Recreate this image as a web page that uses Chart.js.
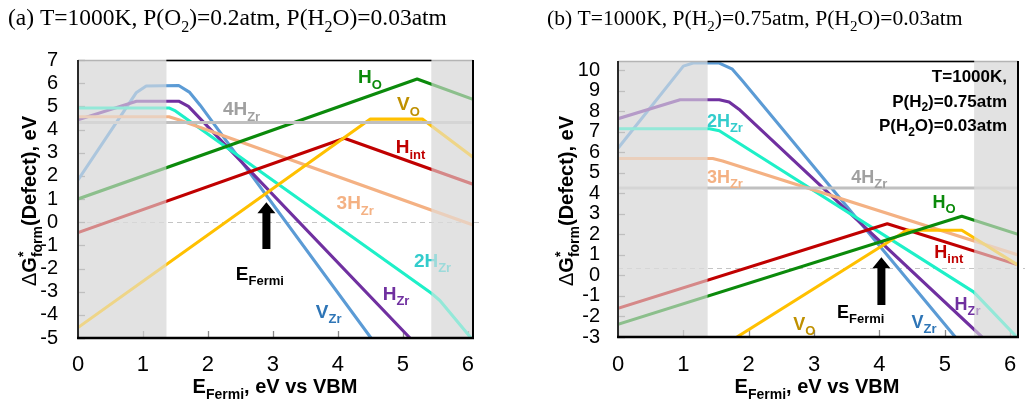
<!DOCTYPE html>
<html>
<head>
<meta charset="utf-8">
<script src="https://cdn.jsdelivr.net/npm/chart.js@4.4.0/dist/chart.umd.min.js"></script>
<style>
body { margin: 0; background: #fff; }
#wrap { position: relative; width: 1035px; height: 405px; background: #fff; }
canvas { position: absolute; top: 0; }
</style>
</head>
<body>
<div id="wrap">
  <canvas id="chartA" width="517" height="405" style="left:0"></canvas>
  <canvas id="chartB" width="518" height="405" style="left:517px"></canvas>
</div>
<script>
// ---- data, panel (a): T=1000K, P(O2)=0.2atm, P(H2O)=0.03atm ----
// each point is [E_Fermi (eV), formation energy (eV)]
const a_HO   = [[0, 1.0], [5.22, 6.18], [6.08, 5.3]];
const a_VO   = [[0, -4.55], [4.5, 4.45], [5.3, 4.45], [6.08, 2.8]];
const a_Hint = [[0, -0.45], [4.1, 3.62], [6.08, 1.64]];
const a_4HZr = [[0, 4.3], [6.08, 4.3]];
const a_3HZr = [[0, 4.55], [1.4, 4.55], [1.55, 4.42], [6.08, -0.12]];
const a_2HZr = [[0, 4.93], [1.4, 4.93], [1.5, 4.8], [5.44, -3.07], [5.57, -3.38], [6.05, -5]];
const a_HZr  = [[0, 4.42], [0.9, 5.22], [1.55, 5.22], [1.7, 5.0], [5.11, -5]];
const a_VZr  = [[0, 1.82], [0.9, 5.6], [1.05, 5.88], [1.55, 5.9], [1.72, 5.6], [1.88, 5.05], [4.51, -5]];

// ---- data, panel (b): T=1000K, P(H2)=0.75atm, P(H2O)=0.03atm ----
const b_HO   = [[0, -2.38], [5.26, 2.88], [6.12, 2.0]];
const b_VO   = [[1.82, -3], [4.42, 2.2], [5.26, 2.2], [6.12, 0.5]];
const b_Hint = [[0, -1.6], [4.12, 2.52], [6.12, 0.52]];
const b_4HZr = [[0, 4.26], [6.12, 4.26]];
const b_3HZr = [[0, 5.7], [1.45, 5.7], [1.6, 5.58], [6.12, 1.0]];
const b_2HZr = [[0, 7.15], [1.4, 7.15], [1.55, 7.05], [5.44, -0.8], [5.62, -1.4], [6.1, -3]];
const b_HZr  = [[0, 7.64], [0.95, 8.56], [1.55, 8.56], [1.7, 8.45], [1.85, 8.1], [5.57, -3]];
const b_VZr  = [[0, 6.2], [1.0, 10.2], [1.15, 10.35], [1.55, 10.35], [1.75, 10.05], [1.9, 9.5], [5.16, -3]];

// axis ranges and tick steps
const a_xRange = [0, 6.08], a_yRange = [-5, 7];
const b_xRange = [0, 6.12], b_yRange = [-3, 10.45];
const tickStep = 1;

// band gap edges (shaded = outside), Fermi level marks, reference dashed lines
const a_gap = [1.36, 5.44], b_gap = [1.37, 5.45];
const a_fermi = 2.9, b_fermi = 4.03;
const a_zeroLine = 0, b_zeroLine = 0.37;

const lineColor = {
  HO: '#0b8a0b', VO: '#ffc000', Hint: '#c00000', '4HZr': '#c0c0c0',
  '3HZr': '#f4b183', '2HZr': '#1ef0c8', HZr: '#7030a0', VZr: '#5b9bd5'
};
const textColor = {
  HO: '#0b8a0b', VO: '#bf9000', Hint: '#c00000', '4HZr': '#a0a0a0',
  '3HZr': '#f4b183', '2HZr': '#33cccc', HZr: '#7030a0', VZr: '#2e75b6', EF: '#000'
};
const labelParts = {
  HO: [['H'], ['O', 'sub']], VO: [['V'], ['O', 'sub']], Hint: [['H'], ['int', 'sub']],
  '4HZr': [['4H'], ['Zr', 'sub']], '3HZr': [['3H'], ['Zr', 'sub']], '2HZr': [['2H'], ['Zr', 'sub']],
  HZr: [['H'], ['Zr', 'sub']], VZr: [['V'], ['Zr', 'sub']], EF: [['E'], ['Fermi', 'sub']]
};

// label anchors (left, baseline) in data units
const a_labels = [
  ['HO', 4.31, 5.99], ['VO', 4.91, 4.83], ['Hint', 4.89, 2.97], ['3HZr', 3.98, 0.56],
  ['4HZr', 2.23, 4.61], ['2HZr', 5.17, -1.94], ['HZr', 4.69, -3.36], ['VZr', 3.66, -4.14], ['EF', 2.43, -2.5]
];
const b_labels = [
  ['2HZr', 1.36, 7.25], ['3HZr', 1.36, 4.5], ['4HZr', 3.57, 4.5], ['HO', 4.81, 3.27],
  ['Hint', 4.84, 0.84], ['HZr', 5.15, -1.69], ['VZr', 4.49, -2.56], ['VO', 2.68, -2.66], ['EF', 3.35, -2.08]
];

const SANS = '"Liberation Sans", Arial, sans-serif';
const SERIF = '"Liberation Serif", "Times New Roman", serif';

function drawRich(ctx, parts, x, y, o) {
  const segs = parts.map(p => {
    const kind = p[1] || 'n';
    const sz = kind === 'n' ? o.size : Math.round(o.size * 0.7);
    const font = (p[2] || o.weight) + ' ' + sz + 'px ' + o.family;
    ctx.font = font;
    const dy = kind === 'sub' ? o.size * 0.28 : kind === 'sup' ? -o.size * 0.4 : 0;
    return { t: p[0], font, w: ctx.measureText(p[0]).width, dy, stack: p[3] };
  });
  let total = 0;
  segs.forEach(s => { if (!s.stack) total += s.w; });
  let cx = o.align === 'center' ? x - total / 2 : o.align === 'right' ? x - total : x;
  ctx.fillStyle = o.color || '#000';
  ctx.textAlign = 'left';
  ctx.textBaseline = 'alphabetic';
  segs.forEach(s => {
    ctx.font = s.font;
    ctx.fillText(s.t, cx, y + s.dy);
    if (!s.stack) cx += s.w;
  });
}

function drawArrow(ctx, cx, tipY, botY) {
  ctx.fillStyle = '#000';
  ctx.beginPath();
  ctx.moveTo(cx, tipY);
  ctx.lineTo(cx + 9, tipY + 11);
  ctx.lineTo(cx + 4, tipY + 11);
  ctx.lineTo(cx + 4, botY);
  ctx.lineTo(cx - 4, botY);
  ctx.lineTo(cx - 4, tipY + 11);
  ctx.lineTo(cx - 9, tipY + 11);
  ctx.closePath();
  ctx.fill();
}

function makeDecor(cfg) {
  function shadeRects(chart) {
    const { chartArea: ca, scales: { x } } = chart;
    const x1 = x.getPixelForValue(cfg.gap[0]), x2 = x.getPixelForValue(cfg.gap[1]);
    return [[ca.left, ca.top, x1 - ca.left, ca.bottom - ca.top], [x2, ca.top, ca.right - x2, ca.bottom - ca.top]];
  }
  return {
    id: 'decor' + cfg.tag,
    beforeDatasetsDraw(chart) {
      const { ctx, chartArea: ca, scales: { x, y } } = chart;
      ctx.save();
      ctx.fillStyle = '#e2e2e2';
      shadeRects(chart).forEach(r => ctx.fillRect(...r));
      // dashed reference line
      const yd = Math.round(y.getPixelForValue(cfg.zeroLine)) + 0.5;
      ctx.setLineDash([5, 4]);
      ctx.strokeStyle = '#c4c4c4';
      ctx.lineWidth = 1;
      ctx.beginPath(); ctx.moveTo(ca.left, yd); ctx.lineTo(ca.right + 7, yd); ctx.stroke();
      ctx.setLineDash([]);
      // inward tick marks
      ctx.strokeStyle = '#8a8a8a';
      ctx.lineWidth = 1.3;
      y.ticks.forEach(t => {
        const py = Math.round(y.getPixelForValue(t.value)) + 0.5;
        ctx.beginPath(); ctx.moveTo(ca.left, py); ctx.lineTo(ca.left + 7, py); ctx.stroke();
      });
      x.ticks.forEach(t => {
        const px = Math.round(x.getPixelForValue(t.value)) + 0.5;
        ctx.beginPath(); ctx.moveTo(px, ca.bottom); ctx.lineTo(px, ca.bottom - 7); ctx.stroke();
      });
      ctx.restore();
    },
    afterDatasetsDraw(chart) {
      const { ctx, chartArea: ca, scales: { x, y } } = chart;
      ctx.save();
      // curve labels
      cfg.labels.forEach(l => {
        drawRich(ctx, labelParts[l[0]], x.getPixelForValue(l[1]), y.getPixelForValue(l[2]),
          { size: cfg.labelSize, family: SANS, weight: 'bold', color: textColor[l[0]] });
      });
      // Fermi level arrow
      drawArrow(ctx, x.getPixelForValue(cfg.fermi), y.getPixelForValue(cfg.arrow[0]), y.getPixelForValue(cfg.arrow[1]));
      // fade the curves outside the band gap
      ctx.fillStyle = 'rgba(226,226,226,0.6)';
      shadeRects(chart).forEach(r => ctx.fillRect(...r));
      // frame
      const x1 = x.getPixelForValue(cfg.gap[0]), x2 = x.getPixelForValue(cfg.gap[1]);
      ctx.lineWidth = 1.5;
      ctx.strokeStyle = '#b4b4b4';
      ctx.beginPath(); ctx.moveTo(ca.left, ca.top + 0.5); ctx.lineTo(ca.right, ca.top + 0.5); ctx.stroke();
      ctx.strokeStyle = '#000';
      ctx.beginPath(); ctx.moveTo(x1, ca.top + 0.5); ctx.lineTo(x2, ca.top + 0.5); ctx.stroke();
      ctx.lineWidth = 2;
      ctx.strokeStyle = '#2a2a2a';
      ctx.beginPath(); ctx.moveTo(ca.left, ca.top); ctx.lineTo(ca.left, ca.bottom); ctx.stroke();
      ctx.strokeStyle = '#000';
      ctx.beginPath(); ctx.moveTo(ca.right, ca.top); ctx.lineTo(ca.right, ca.bottom); ctx.stroke();
      ctx.lineWidth = 2.6;
      ctx.beginPath(); ctx.moveTo(ca.left - 1, ca.bottom); ctx.lineTo(ca.right + 1, ca.bottom); ctx.stroke();
      // text box (panel b)
      if (cfg.note) {
        cfg.note.forEach((line, i) => {
          drawRich(ctx, line, ca.right - 11, ca.top + 21 + i * 24.5,
            { size: 17, family: SANS, weight: 'bold', color: '#000', align: 'right' });
        });
      }
      // titles
      drawRich(ctx, cfg.title, cfg.titleX, 25, { size: cfg.titleSize, family: SERIF, weight: 'normal', color: '#000' });
      ctx.translate(cfg.yTitleX, 201);
      ctx.rotate(-Math.PI / 2);
      drawRich(ctx, [['Δ', 'n', 'normal'], ['G'], ['*', 'sup', 'bold', true], ['form', 'sub'], ['(Defect), eV']], 0, 0,
        { size: 20, family: SANS, weight: 'bold', color: '#000', align: 'center' });
      ctx.setTransform(1, 0, 0, 1, 0, 0);
      drawRich(ctx, [['E'], ['Fermi', 'sub'], [', eV vs VBM']], cfg.xTitleX, 393,
        { size: 20, family: SANS, weight: 'bold', color: '#000', align: 'center' });
      ctx.restore();
    }
  };
}

function dataset(key, pts) {
  return {
    label: key,
    data: pts.map(p => ({ x: p[0], y: p[1] })),
    borderColor: lineColor[key],
    backgroundColor: lineColor[key],
    borderWidth: 3.1,
    borderJoinStyle: 'round',
    pointRadius: 0,
    tension: 0,
    fill: false
  };
}

function build(id, series, xr, yr, dims, cfg) {
  return new Chart(document.getElementById(id), {
    type: 'line',
    data: { datasets: series.map(s => dataset(s[0], s[1])) },
    options: {
      responsive: false,
      animation: false,
      devicePixelRatio: 1,
      layout: { padding: { top: dims.top, right: dims.right, left: 0, bottom: 0 } },
      plugins: { legend: { display: false }, tooltip: { enabled: false } },
      scales: {
        x: {
          type: 'linear', min: xr[0], max: xr[1],
          grid: { display: false, drawTicks: false }, border: { display: false },
          ticks: { stepSize: tickStep, includeBounds: false, autoSkip: false, maxRotation: 0,
                   padding: dims.xPad, color: '#000', font: { family: SANS, size: 22 } },
          afterFit: s => { s.height = dims.xH; }
        },
        y: {
          min: yr[0], max: yr[1],
          grid: { display: false, drawTicks: false }, border: { display: false },
          ticks: { stepSize: tickStep, includeBounds: false, autoSkip: false,
                   padding: dims.yPad, color: '#000', font: { family: SANS, size: 20 } },
          afterFit: s => { s.width = dims.yW; }
        }
      }
    },
    plugins: [makeDecor(cfg)]
  });
}

build('chartA',
  [['4HZr', a_4HZr], ['HO', a_HO], ['VO', a_VO], ['Hint', a_Hint], ['3HZr', a_3HZr], ['2HZr', a_2HZr], ['HZr', a_HZr], ['VZr', a_VZr]],
  a_xRange, a_yRange,
  { top: 60, right: 44, xH: 67, yW: 78, xPad: 14, yPad: 20 },
  { tag: 'A', gap: a_gap, zeroLine: a_zeroLine, fermi: a_fermi, arrow: [0.86, -1.16], labels: a_labels, labelSize: 19,
    title: [['(a) T=1000K, P(O'], ['2', 'sub'], [')=0.2atm, P(H'], ['2', 'sub'], ['O)=0.03atm']], titleX: 8, titleSize: 23.5,
    yTitleX: 36, xTitleX: 275 });

build('chartB',
  [['4HZr', b_4HZr], ['HO', b_HO], ['VO', b_VO], ['Hint', b_Hint], ['3HZr', b_3HZr], ['2HZr', b_2HZr], ['HZr', b_HZr], ['VZr', b_VZr]],
  b_xRange, b_yRange,
  { top: 61, right: 17, xH: 68, yW: 101, xPad: 15, yPad: 18 },
  { tag: 'B', gap: b_gap, zeroLine: b_zeroLine, fermi: b_fermi, arrow: [0.89, -1.44], labels: b_labels, labelSize: 18,
    title: [['(b) T=1000K, P(H'], ['2', 'sub'], [')=0.75atm, P(H'], ['2', 'sub'], ['O)=0.03atm']], titleX: 30, titleSize: 21.6,
    yTitleX: 56, xTitleX: 300,
    note: [[['T=1000K,']], [['P(H'], ['2', 'sub'], [')=0.75atm']], [['P(H'], ['2', 'sub'], ['O)=0.03atm']]] });
</script>
</body>
</html>
